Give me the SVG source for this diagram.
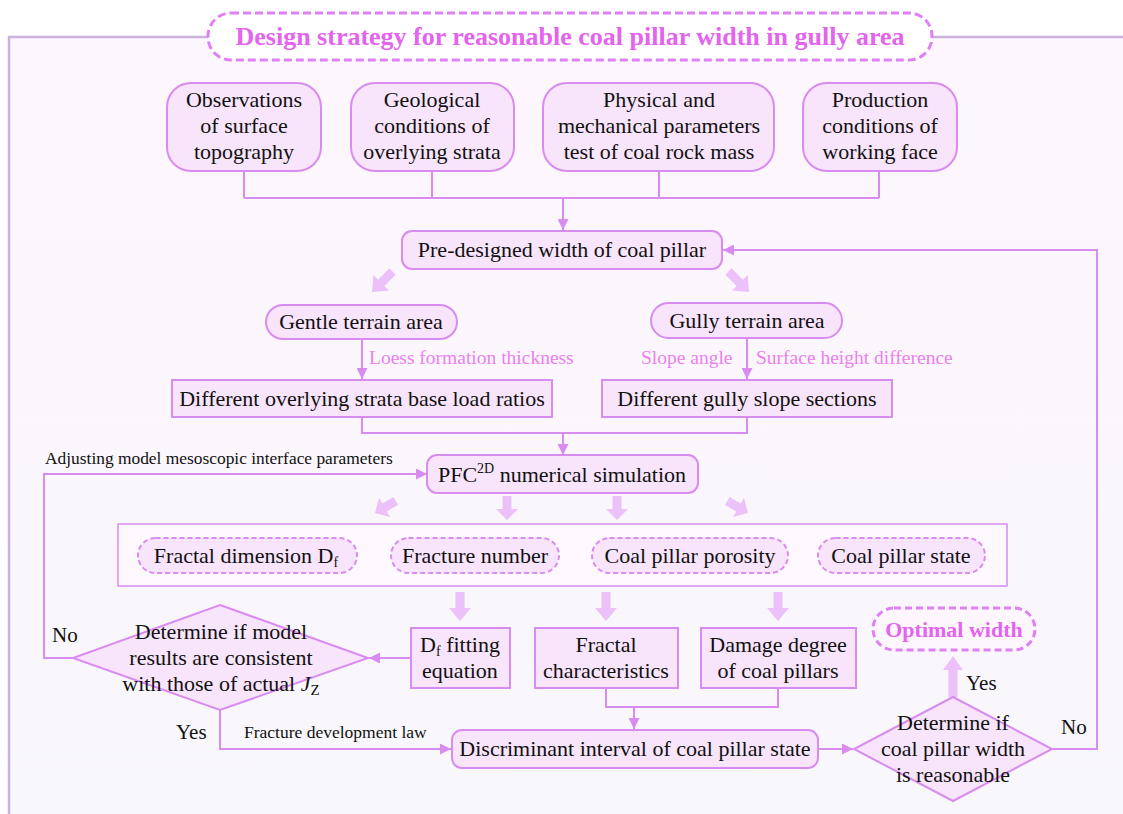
<svg xmlns="http://www.w3.org/2000/svg" width="1123" height="814" viewBox="0 0 1123 814" font-family="'Liberation Serif', 'Times New Roman', Tinos, 'DejaVu Serif', serif">
<defs>
<style>
text{font-family:'Liberation Serif','Times New Roman',Tinos,'DejaVu Serif',serif;fill:#111;}
.t{font-size:22px;text-anchor:middle;}
.box{fill:#f8e4fb;stroke:#d98cf0;stroke-width:2;}
.pill{fill:#f8e4fb;stroke:#d98cf0;stroke-width:2;stroke-dasharray:5 3;}
.dia{fill:#f8e4fb;stroke:#d98cf0;stroke-width:2;}
.ln{fill:none;stroke:#d98cf0;stroke-width:2;}
.dl{fill:none;stroke:#d98cf0;stroke-width:2;stroke-dasharray:5 3;}
.lbl{font-size:19.5px;fill:#ec7ff0;}
.fat{fill:#ecc0f8;}
.frame{fill:none;stroke:#c9b3d9;stroke-width:2.5;}
.hl{font-weight:bold;fill:#e464ee;text-anchor:middle;}
.yn{font-size:21px;}
</style>
<linearGradient id="bg" x1="0" y1="0" x2="0" y2="1">
<stop offset="0" stop-color="#fdf6fd"/>
<stop offset="1" stop-color="#f8f7fb"/>
</linearGradient>
<marker id="ah" viewBox="0 0 10 10" refX="10" refY="5" markerWidth="5.5" markerHeight="5.5" orient="auto" markerUnits="strokeWidth">
<path d="M0,0 L10,5 L0,10 Z" fill="#d98cf0"/>
</marker>
<path id="fs" d="M-4.5,-24 H4.5 V-11 H11 L0,0 L-11,-11 H-4.5 Z"/>
<path id="fl" d="M-4.5,-29 H4.5 V-13 H11 L0,0 L-11,-13 H-4.5 Z"/>
</defs>

<rect x="0" y="0" width="1123" height="814" fill="#ffffff"/>
<rect x="9" y="37" width="1114" height="777" fill="url(#bg)"/>
<g id="frame">
<path class="frame" d="M9,814 V37 H208 M932,37 H1123"/>
</g>

<g id="title">
<rect x="208" y="13" width="724" height="47" rx="23" fill="#ffffff" stroke="#e080f5" stroke-width="3" stroke-dasharray="8 4"/>
<text x="570" y="45" class="hl" style="font-size:26px">Design strategy for reasonable coal pillar width in gully area</text>
</g>

<g id="connectors">
<path class="ln" d="M244,171 V198 M432,171 V198 M659,171 V198 M879,171 V198 M244,198 H879"/>
<path class="ln" d="M563,198 V230" marker-end="url(#ah)"/>
<path class="ln" d="M1052,749 H1097 V250 H723" marker-end="url(#ah)"/>
<path class="ln" d="M362,339 V379" marker-end="url(#ah)"/>
<path class="ln" d="M747,338 V379" marker-end="url(#ah)"/>
<path class="ln" d="M362,417 V433 H747 V417 M563,433 V455" marker-end="url(#ah)"/>
<path class="ln" d="M73,658 H44 V474 H427" marker-end="url(#ah)"/>
<path class="dl" d="M357,556 H391 M559,556 H592 M788,556 H818"/>
<path class="ln" d="M411,658 H369" marker-end="url(#ah)"/>
<path class="ln" d="M220,710 V749 H451" marker-end="url(#ah)"/>
<path class="ln" d="M606,689 V707 H778 V689 M634,707 V729" marker-end="url(#ah)"/>
<path class="ln" d="M818,749 H853" marker-end="url(#ah)"/>
<use href="#fl" class="fat" transform="translate(372,292) rotate(45)"/>
<use href="#fl" class="fat" transform="translate(749,292) rotate(-45)"/>
<use href="#fs" class="fat" transform="translate(375,513) rotate(60)"/>
<use href="#fs" class="fat" transform="translate(507,520)"/>
<use href="#fs" class="fat" transform="translate(617,520)"/>
<use href="#fs" class="fat" transform="translate(748,513) rotate(-60)"/>
<use href="#fl" class="fat" transform="translate(460,621)"/>
<use href="#fl" class="fat" transform="translate(606,621)"/>
<use href="#fl" class="fat" transform="translate(778,621)"/>
<path class="fat" d="M953,656 L963,670 H957.5 V697 H948.5 V670 H943 Z"/>
</g>

<g id="n-observations">
<rect class="box" x="167" y="83" width="154" height="88" rx="24"/>
<text class="t" x="244" y="107">Observations</text>
<text class="t" x="244" y="133">of surface</text>
<text class="t" x="244" y="159">topography</text>
</g>
<g id="n-geological">
<rect class="box" x="351" y="83" width="163" height="88" rx="24"/>
<text class="t" x="432" y="107">Geological</text>
<text class="t" x="432" y="133">conditions of</text>
<text class="t" x="432" y="159">overlying strata</text>
</g>
<g id="n-physical">
<rect class="box" x="543" y="83" width="231" height="88" rx="24"/>
<text class="t" x="659" y="107">Physical and</text>
<text class="t" x="659" y="133">mechanical parameters</text>
<text class="t" x="659" y="159">test of coal rock mass</text>
</g>
<g id="n-production">
<rect class="box" x="803" y="83" width="154" height="88" rx="24"/>
<text class="t" x="880" y="107">Production</text>
<text class="t" x="880" y="133">conditions of</text>
<text class="t" x="880" y="159">working face</text>
</g>

<g id="n-predesigned">
<rect class="box" x="402" y="231" width="320" height="38" rx="10"/>
<text class="t" x="562" y="257">Pre-designed width of coal pillar</text>
</g>

<g id="n-gentle">
<rect class="box" x="266" y="305" width="191" height="34" rx="17"/>
<text class="t" x="361" y="329">Gentle terrain area</text>
</g>
<g id="n-gully">
<rect class="box" x="651" y="303" width="191" height="35" rx="17.5"/>
<text class="t" x="747" y="328">Gully terrain area</text>
</g>

<g id="labels-terrain">
<text class="lbl" x="369" y="364">Loess formation thickness</text>
<text class="lbl" x="641" y="364">Slope angle</text>
<text class="lbl" x="756" y="364">Surface height difference</text>
</g>

<g id="n-overlying">
<rect class="box" x="172" y="380" width="380" height="37"/>
<text class="t" x="362" y="406">Different overlying strata base load ratios</text>
</g>
<g id="n-slope">
<rect class="box" x="602" y="380" width="290" height="37"/>
<text class="t" x="747" y="406">Different gully slope sections</text>
</g>

<g id="n-pfc">
<rect class="box" x="427" y="455" width="271" height="38" rx="10"/>
<text class="t" x="562" y="482">PFC<tspan dy="-9" font-size="14">2D</tspan><tspan dy="9"> numerical simulation</tspan></text>
</g>
<text x="45" y="464" style="font-size:17.4px">Adjusting model mesoscopic interface parameters</text>

<g id="n-group">
<rect x="118" y="524" width="889" height="62" fill="#fcf8fd" stroke="#d98cf0" stroke-width="1.5"/>
</g>
<g id="n-fractaldim">
<rect class="pill" x="138" y="538" width="219" height="35" rx="17.5"/>
<text class="t" x="246" y="563">Fractal dimension D<tspan dy="4" font-size="14">f</tspan></text>
</g>
<g id="n-fracnum">
<rect class="pill" x="391" y="538" width="168" height="35" rx="17.5"/>
<text class="t" x="475" y="563">Fracture number</text>
</g>
<g id="n-porosity">
<rect class="pill" x="592" y="538" width="196" height="35" rx="17.5"/>
<text class="t" x="690" y="563">Coal pillar porosity</text>
</g>
<g id="n-state">
<rect class="pill" x="818" y="538" width="167" height="35" rx="17.5"/>
<text class="t" x="901" y="563">Coal pillar state</text>
</g>

<g id="n-dffit">
<rect class="box" x="411" y="628" width="99" height="60"/>
<text class="t" x="460" y="652">D<tspan dy="4" font-size="14">f</tspan><tspan dy="-4"> fitting</tspan></text>
<text class="t" x="460" y="678">equation</text>
</g>
<g id="n-fractalchar">
<rect class="box" x="535" y="628" width="143" height="60"/>
<text class="t" x="606" y="652">Fractal</text>
<text class="t" x="606" y="678">characteristics</text>
</g>
<g id="n-damage">
<rect class="box" x="701" y="628" width="155" height="60"/>
<text class="t" x="778" y="652">Damage degree</text>
<text class="t" x="778" y="678">of coal pillars</text>
</g>

<g id="n-decision-model">
<polygon class="dia" points="220,605 368,658 220,710 73,658"/>
<text class="t" x="221" y="639">Determine if model</text>
<text class="t" x="221" y="665">results are consistent</text>
<text class="t" x="221" y="691">with those of actual <tspan font-style="italic">J</tspan><tspan dy="4" font-size="15">Z</tspan></text>
</g>
<text x="52" y="642" class="yn">No</text>
<text x="176" y="739" class="yn">Yes</text>
<text x="244" y="738" style="font-size:17.5px">Fracture development law</text>

<g id="n-discriminant">
<rect class="box" x="452" y="730" width="366" height="38" rx="10"/>
<text class="t" x="635" y="756">Discriminant interval of coal pillar state</text>
</g>

<g id="n-decision-width">
<polygon class="dia" points="953,697 1052,749 953,801 854,749"/>
<text class="t" x="953" y="730">Determine if</text>
<text class="t" x="953" y="756">coal pillar width</text>
<text class="t" x="953" y="782">is reasonable</text>
</g>
<text x="966" y="690" class="yn">Yes</text>
<text x="1061" y="734" class="yn">No</text>

<g id="n-optimal">
<rect x="873" y="608" width="162" height="42" rx="21" fill="#fdf7fd" stroke="#e080f5" stroke-width="3" stroke-dasharray="7 4"/>
<text class="hl" x="954" y="637" style="font-size:22px">Optimal width</text>
</g>
</svg>
